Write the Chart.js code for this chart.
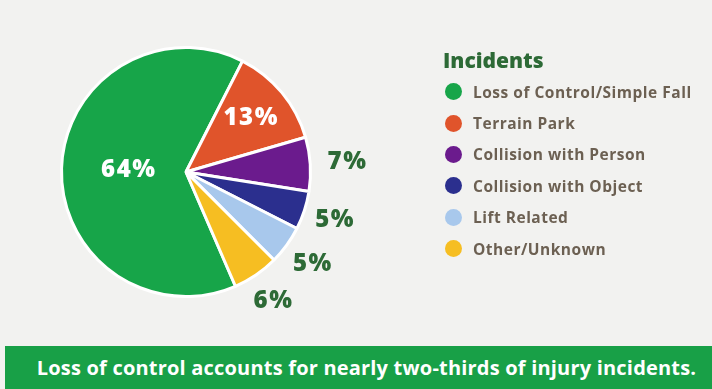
<!DOCTYPE html>
<html>
<head>
<meta charset="utf-8">
<script src="https://cdn.jsdelivr.net/npm/chart.js@4/dist/chart.umd.min.js"></script>
<style>
  html, body { margin: 0; padding: 0; }
  body {
    width: 712px; height: 389px; overflow: hidden; position: relative;
    background: #f2f2f0;
    font-family: "Open Sans", Lato, sans-serif;
  }
  #chartWrap { position: absolute; left: 0; top: 0; width: 712px; height: 340px; }
  #legend { position: absolute; left: 443px; top: 45px; }
  #legend h3 {
    margin: 0 0 1px 0; font-size: 21px; font-weight: 800; color: #2d6a36;
    line-height: 30px;
  }
  #legend .row { display: flex; align-items: center; height: 31.4px; white-space: nowrap; }
  #legend .dot { width: 17px; height: 17px; border-radius: 50%; margin: 0 11px 0 2px; flex: none; }
  #legend .txt { font-size: 15.5px; font-weight: 700; color: #6c6052; letter-spacing: 0.5px; }
  #banner {
    position: absolute; left: 5px; right: 0; top: 346px; bottom: 0;
    background: #18a047; color: #fff; font-weight: 700; font-size: 20px;
    letter-spacing: 0.2px;
    display: flex; align-items: center; justify-content: center; padding-left: 16px;
    white-space: nowrap;
  }
</style>
</head>
<body>
<div id="chartWrap"><canvas id="pie"></canvas></div>
<div id="legend"><h3>Incidents</h3></div>
<div id="banner">Loss of control accounts for nearly two-thirds of injury incidents.</div>
<script>
// incident share, percent
const CATEGORIES = [
  'Loss of Control/Simple Fall',
  'Terrain Park',
  'Collision with Person',
  'Collision with Object',
  'Lift Related',
  'Other/Unknown',
];
const SHARES = [64, 13, 7, 5, 5, 6];
const COLORS = ['#17a549', '#e0542b', '#6b1b8d', '#2b2f8e', '#a8c8ec', '#f6be22'];

// where each % label sits, as a fraction of the radius (>1 = outside the pie)
const LABEL_RADIUS = [0.46, 0.68, 1.30, 1.26, 1.26, 1.25];
const LABEL_INSIDE = [true, true, false, false, false, false];

// HTML legend built from the same arrays
const legendEl = document.getElementById('legend');
CATEGORIES.forEach((name, i) => {
  const row = document.createElement('div');
  row.className = 'row';
  row.innerHTML = `<span class="dot" style="background:${COLORS[i]}"></span><span class="txt">${name}</span>`;
  legendEl.appendChild(row);
});

const pctLabels = {
  id: 'pctLabels',
  afterDatasetsDraw(chart) {
    const { ctx } = chart;
    const arcs = chart.getDatasetMeta(0).data;
    ctx.save();
    ctx.font = '800 24px "Open Sans", sans-serif';
    ctx.letterSpacing = '1.5px';
    ctx.textAlign = 'center';
    ctx.textBaseline = 'middle';
    arcs.forEach((arc, i) => {
      const mid = (arc.startAngle + arc.endAngle) / 2;
      const r = arc.outerRadius * LABEL_RADIUS[i];
      const x = arc.x + Math.cos(mid) * r;
      const y = arc.y + Math.sin(mid) * r;
      ctx.fillStyle = LABEL_INSIDE[i] ? '#ffffff' : '#2d6a36';
      ctx.fillText(SHARES[i] + '%', x, y);
    });
    ctx.restore();
  },
};

new Chart(document.getElementById('pie'), {
  type: 'pie',
  data: {
    labels: CATEGORIES,
    datasets: [{
      data: SHARES,
      backgroundColor: COLORS,
      borderColor: '#ffffff',
      borderWidth: 3,
    }],
  },
  options: {
    responsive: true,
    maintainAspectRatio: false,
    animation: false,
    rotation: 156.6,
    layout: { padding: { left: 60, right: 400, top: 46, bottom: 42 } },
    plugins: {
      legend: { display: false },
      tooltip: { enabled: false },
    },
  },
  plugins: [pctLabels],
});
</script>
</body>
</html>
